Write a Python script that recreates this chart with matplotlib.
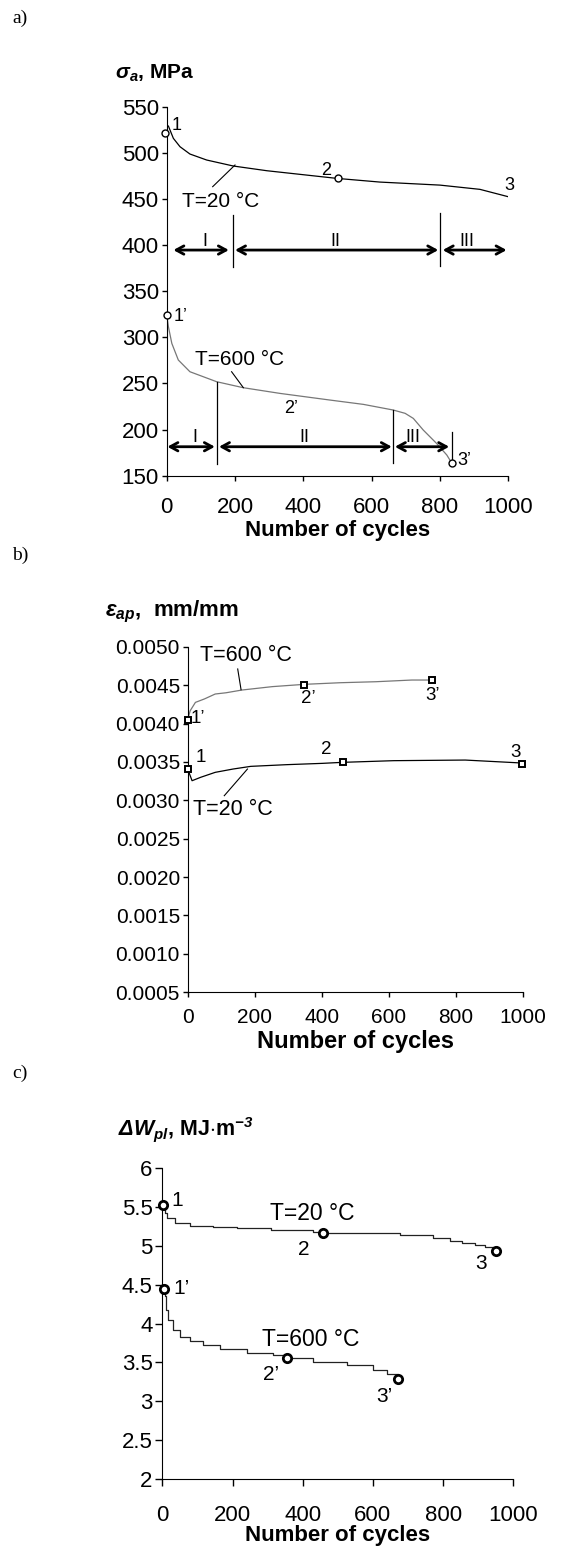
import matplotlib
matplotlib.use("Agg")
import matplotlib.pyplot as plt

plt.rcParams['font.family'] = ['Liberation Sans', 'DejaVu Sans']
plt.rcParams['mathtext.fontset'] = 'custom'
plt.rcParams['mathtext.rm'] = 'Liberation Sans'
plt.rcParams['mathtext.it'] = 'Liberation Sans:italic'
plt.rcParams['mathtext.bf'] = 'Liberation Sans:bold:italic'

# ---- a) stress amplitude, MPa ----
a_x20 = [5, 19.5, 39, 68, 117, 195, 293, 498, 624, 800, 917, 1000]
a_y20 = [529, 515.7, 506.6, 498.7, 492.2, 485.7, 480.6, 472.3, 468.3, 465, 460.4, 452.4]
a_mx20 = [-4, 500]
a_my20 = [521, 472.3]

a_x600 = [0, 5, 15, 34, 68, 146, 224, 332, 478, 576, 663, 698, 722, 751, 790, 820, 832]
a_y600 = [324.2, 311.5, 293.4, 275.4, 262.7, 251.9, 245.4, 239.2, 232, 227.3,
          221.2, 217.6, 212.1, 199.5, 185, 172.4, 165.2]
a_mx600 = [0, 834]
a_my600 = [324.2, 164]

# stage boundaries (cycles)
stage_names = ['I', 'II', 'III']
a_bounds20 = [193, 800, 1002]
a_bounds600 = [146, 663, 834]

# ---- b) plastic strain amplitude, mm/mm ----
b_x600 = [0, 3, 7.5, 23, 50, 82, 114, 162, 252, 348, 455, 561, 668, 728]
b_y600 = [0.00401, 0.00410, 0.004167, 0.004275, 0.00432, 0.004384, 0.0044, 0.004436,
          0.00448, 0.00451, 0.004531, 0.004544, 0.004566, 0.004566]
b_mx600 = [0, 346, 728]
b_my600 = [0.00405, 0.004505, 0.004566]

b_x20 = [0, 13, 39, 82, 135, 188, 295, 401, 460, 614, 827, 998]
b_y20 = [0.003407, 0.003255, 0.0033, 0.003364, 0.003407, 0.003442, 0.003464,
         0.003481, 0.003494, 0.003516, 0.003524, 0.003485]
b_mx20 = [0, 462, 996]
b_my20 = [0.003407, 0.003494, 0.003475]

# ---- c) plastic strain energy density, MJ/m3 ----
c_x20 = [3, 8, 14, 36, 79, 145, 212, 311, 430, 459, 554, 677, 772, 820, 853, 891, 919, 951]
c_y20 = [5.528, 5.42, 5.356, 5.292, 5.258, 5.24, 5.227, 5.206, 5.185, 5.172, 5.163,
         5.142, 5.107, 5.069, 5.043, 5.013, 4.991, 4.94]
c_mx20 = [3, 459, 951]
c_my20 = [5.528, 5.172, 4.94]

c_x600 = [6, 8, 10, 17, 31, 50, 79, 117, 164, 240, 316, 354, 430, 525, 601, 639, 672]
c_y600 = [4.446, 4.35, 4.176, 4.047, 3.918, 3.833, 3.78, 3.725, 3.67, 3.618, 3.597,
          3.554, 3.51, 3.468, 3.403, 3.352, 3.283]
c_mx600 = [6, 354, 672]
c_my600 = [4.446, 3.554, 3.283]

W, H = 561, 1557
fig = plt.figure(figsize=(W / 100, H / 100), dpi=100)


def rect(x0, y0, x1, y1):
    return [x0 / W, 1 - y1 / H, (x1 - x0) / W, (y1 - y0) / H]


def ftxt(px, py, s, **kw):
    fig.text(px / W, 1 - py / H, s, **kw)


def style(ax, xpad, tlen, lsize, label_y, xlsize):
    for s in ['top', 'right']:
        ax.spines[s].set_visible(False)
    ax.tick_params(axis='x', direction='out', length=tlen, width=1, pad=xpad, labelsize=lsize)
    ax.tick_params(axis='y', direction='out', length=tlen, width=1, pad=2, labelsize=lsize)
    ax.set_xlim(0, 1000)
    ax.set_xticks([0, 200, 400, 600, 800, 1000])
    ax.set_xlabel('Number of cycles', fontsize=xlsize, fontweight='bold')
    ax.xaxis.set_label_coords(0.5, label_y)


def stage_arrows(ax, ends, y, labels_x, ytxt):
    for (x0, x1), tx, name in zip(ends, labels_x, stage_names):
        ax.annotate('', xy=(x1, y), xytext=(x0, y),
                    arrowprops=dict(arrowstyle='<->,head_length=0.55,head_width=0.3',
                                    lw=2, color='black', shrinkA=0, shrinkB=0))
        ax.text(tx, ytxt, name, ha='center', va='center', fontsize=13)


def leader(ax, x0, y0, x1, y1):
    ax.plot([x0, x1], [y0, y1], color='black', lw=0.8)


mk = dict(mfc='white', mec='black', clip_on=False, zorder=5)

# panel a
ax = fig.add_axes(rect(166.7, 106.7, 508.3, 475.7))
style(ax, 12, 3.6, 16, -0.119, 16)
ax.set_ylim(150, 550)
ax.set_yticks(range(150, 551, 50))
ax.plot(a_x20, a_y20, color='black', lw=0.9)
ax.plot(a_x600, a_y600, color='#777777', lw=0.9)
ax.plot(a_mx20, a_my20, 'o', ms=5, mew=1, **mk)
ax.plot(a_mx600, a_my600, 'o', ms=5, mew=1, **mk)
for xv, lo, hi in zip(a_bounds20, [376.6, 377.3, 380.9], [432.6, 434.4, 409.8]):
    ax.plot([xv, xv], [lo, hi], color='black', lw=0.9)
for xv, lo, hi in zip(a_bounds600, [162.3, 163.4, 168], [251.9, 221.2, 197.7]):
    ax.plot([xv, xv], [lo, hi], color='black', lw=0.9)
stage_arrows(ax, [(19.5, 182), (200, 795), (808, 995)], 394.6, [112, 493, 878], 404)
stage_arrows(ax, [(2, 141), (153, 659), (668, 827)], 181.4, [83, 403, 722], 191.5)
leader(ax, 134.6, 463.3, 200, 486.8)
leader(ax, 190, 262.7, 224.4, 245.4)
ax.text(29, 530, '1', fontsize=13, va='center', ha='center')
ax.text(466, 481.3, '2', fontsize=13, va='center', ha='center')
ax.text(1003, 465, '3', fontsize=13, va='center', ha='center')
ax.text(159, 447, 'T=20 \u00b0C', fontsize=15, va='center', ha='center')
ax.text(42, 322.4, '1\u2019', fontsize=13, va='center', ha='center')
ax.text(213, 276, 'T=600 \u00b0C', fontsize=15, va='center', ha='center')
ax.text(363, 223, '2\u2019', fontsize=13, va='center', ha='center')
ax.text(870, 166, '3\u2019', fontsize=13, va='center', ha='center')

# panel b
ax = fig.add_axes(rect(187.7, 646.7, 523.3, 992.3))
style(ax, 8, 3.6, 15, -0.109, 17)
ax.set_ylim(0.0005, 0.0050)
ax.set_yticks([0.0005 * k for k in range(1, 11)])
ax.set_yticklabels(['%.4f' % (0.0005 * k) for k in range(1, 11)])
ax.plot(b_x600, b_y600, color='#777777', lw=0.9)
ax.plot(b_x20, b_y20, color='black', lw=0.9)
ax.plot(b_mx600, b_my600, 's', ms=4.5, mew=1.4, **mk)
ax.plot(b_mx20, b_my20, 's', ms=4.5, mew=1.4, **mk)
leader(ax, 149, 0.00471, 159, 0.00444)
leader(ax, 109, 0.00306, 178, 0.003407)
ax.text(173, 0.00488, 'T=600 \u00b0C', fontsize=15.5, va='center', ha='center')
ax.text(30, 0.00406, '1\u2019', fontsize=13.5, va='center', ha='center')
ax.text(359, 0.00432, '2\u2019', fontsize=13.5, va='center', ha='center')
ax.text(731, 0.004362, '3\u2019', fontsize=13.5, va='center', ha='center')
ax.text(39, 0.003559, '1', fontsize=13.5, va='center', ha='center')
ax.text(414, 0.003667, '2', fontsize=13.5, va='center', ha='center')
ax.text(977, 0.003624, '3', fontsize=13.5, va='center', ha='center')
ax.text(135, 0.002886, 'T=20 \u00b0C', fontsize=15.5, va='center', ha='center')

# panel c
ax = fig.add_axes(rect(162.3, 1168.3, 513.3, 1479))
style(ax, 13.5, 5, 16, -0.147, 16)
ax.set_ylim(2, 6)
ax.set_yticks([2, 2.5, 3, 3.5, 4, 4.5, 5, 5.5, 6])
ax.set_yticklabels(['2', '2.5', '3', '3.5', '4', '4.5', '5', '5.5', '6'])
ax.plot(c_x20, c_y20, color='#222222', lw=0.9, drawstyle='steps-post')
ax.plot(c_x600, c_y600, color='#222222', lw=0.9, drawstyle='steps-post')
ax.plot(c_mx20, c_my20, 'o', ms=6, mew=2, **mk)
ax.plot(c_mx600, c_my600, 'o', ms=6, mew=2, **mk)
ax.text(41, 5.59, '1', fontsize=15, va='center', ha='center')
ax.text(428, 5.42, 'T=20 \u00b0C', fontsize=16.5, va='center', ha='center')
ax.text(404, 4.957, '2', fontsize=15, va='center', ha='center')
ax.text(908, 4.768, '3', fontsize=15, va='center', ha='center')
ax.text(55, 4.455, '1\u2019', fontsize=15, va='center', ha='center')
ax.text(423, 3.79, 'T=600 \u00b0C', fontsize=16.5, va='center', ha='center')
ax.text(311, 3.339, '2\u2019', fontsize=15, va='center', ha='center')
ax.text(634, 3.06, '3\u2019', fontsize=15, va='center', ha='center')

# panel captions and axis titles
for py, s in [(18, 'a)'), (555, 'b)'), (1073, 'c)')]:
    ftxt(12, py, s, fontsize=14, family='Liberation Serif', va='center')
ftxt(115, 73, r'$\mathbf{\sigma_a}$, MPa', fontsize=15, fontweight='bold', va='center')
ftxt(105, 612, r'$\mathbf{\varepsilon_{ap}}$,  mm/mm', fontsize=16, fontweight='bold', va='center')
ftxt(118, 1130, r'$\mathbf{\Delta W_{pl}}$, MJ$\cdot$m$^{\mathbf{-3}}$', fontsize=15.5,
     fontweight='bold', va='center')

fig.savefig('out.png', dpi=100)
